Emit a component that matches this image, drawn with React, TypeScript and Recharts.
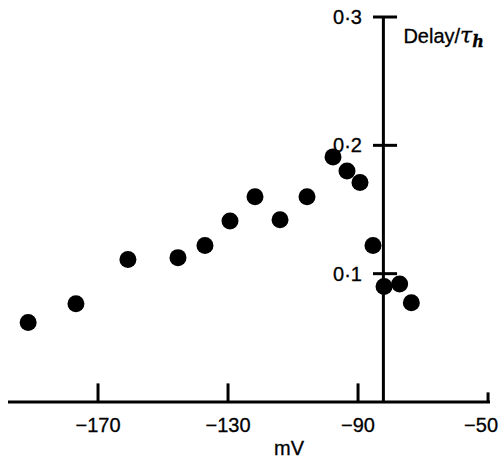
import React from 'react';
import { ScatterChart, Scatter, XAxis, YAxis, ReferenceLine, Label } from 'recharts';

const voltages = [-191.5, -176.8, -160.8, -145.4, -137.1, -129.4, -121.7, -114, -105.7, -97.7, -93.4, -89.4, -85.4, -82, -77.2, -73.6];
const delays = [0.062, 0.0766, 0.111, 0.1125, 0.122, 0.141, 0.160, 0.142, 0.160, 0.191, 0.180, 0.171, 0.122, 0.090, 0.092, 0.0773];
const xTicks = [-170, -130, -90, -50];
const xTickLabels = ['\u2212170', '\u2212130', '\u221290', '\u221250'];
const yTicks = [0.1, 0.2, 0.3];
const yTickLabels = ['0\u00b71', '0\u00b72', '0\u00b73'];
const yAxisAt = -82.2;

const data = voltages.map((v, i) => ({ x: v, y: delays[i] }));

const FONT = 'Liberation Sans, Arial, Helvetica, sans-serif';

const Dot = (props: any) => <circle cx={props.cx} cy={props.cy} r={8.5} fill="#000" />;

const XTick = (props: any) => {
  const { x, y, payload } = props;
  const idx = xTicks.indexOf(payload.value);
  const dx = idx === xTicks.length - 1 ? -7 : 0;
  return (
    <text x={x + dx} y={y} dy="0.71em" textAnchor="middle" fontSize={20} fontFamily={FONT} fill="#000" stroke="#000" strokeWidth={0.3}>
      {xTickLabels[idx]}
    </text>
  );
};

const TitleLabel = (props: any) => {
  const vb = props.viewBox || {};
  return (
    <text x={vb.x + 20} y={vb.y + 26} fontSize={20} fontFamily={FONT} fill="#000" stroke="#000" strokeWidth={0.3}>
      Delay/
      <tspan fontStyle="italic" fontFamily="DejaVu Serif, serif" fontSize={22}>τ</tspan>
      <tspan fontStyle="italic" fontWeight="bold" fontFamily="DejaVu Serif, serif" fontSize={16} dy={4}>h</tspan>
    </text>
  );
};

export default function App() {
  return (
    <div style={{ position: 'absolute', left: 0, top: 0, background: '#fff' }}>
      <ScatterChart width={502} height={458} margin={{ top: 17, right: 12, bottom: 0, left: 8 }}>
        <XAxis
          type="number"
          dataKey="x"
          domain={[-197.7, -49.4]}
          ticks={xTicks}
          height={56}
          axisLine={{ stroke: '#000', strokeWidth: 3 }}
          tickLine={false}
          tickSize={6}
          tickMargin={10}
          tick={<XTick />}
          interval={0}
        >
          <Label value="mV" position="bottom" offset={-17} dx={40} fontSize={20} fontFamily={FONT} fill="#000" stroke="#000" strokeWidth={0.3} />
        </XAxis>
        <YAxis type="number" dataKey="y" domain={[0, 0.3]} hide />
        {xTicks.map((t, i) => (
          <ReferenceLine
            key={'xt' + t}
            segment={[{ x: t, y: 0 }, { x: t, y: i === xTicks.length - 1 ? 0.0075 : 0.0145 }]}
            stroke="#000"
            strokeWidth={3}
            ifOverflow="visible"
          />
        ))}
        <ReferenceLine
          segment={[{ x: yAxisAt, y: 0 }, { x: yAxisAt, y: 0.3 }]}
          stroke="#000"
          strokeWidth={3}
          ifOverflow="visible"
          label={<TitleLabel />}
        />
        {yTicks.map((t, i) => (
          <ReferenceLine
            key={'yt' + t}
            segment={[{ x: yAxisAt - 3.2, y: t }, { x: yAxisAt + 4.2, y: t }]}
            stroke="#000"
            strokeWidth={3}
            ifOverflow="visible"
            label={{ value: yTickLabels[i], position: 'left', offset: 11, fontSize: 20, fontFamily: FONT, fill: '#000', stroke: '#000', strokeWidth: 0.3 }}
          />
        ))}
        <Scatter data={data} shape={<Dot />} isAnimationActive={false} />
      </ScatterChart>
    </div>
  );
}
